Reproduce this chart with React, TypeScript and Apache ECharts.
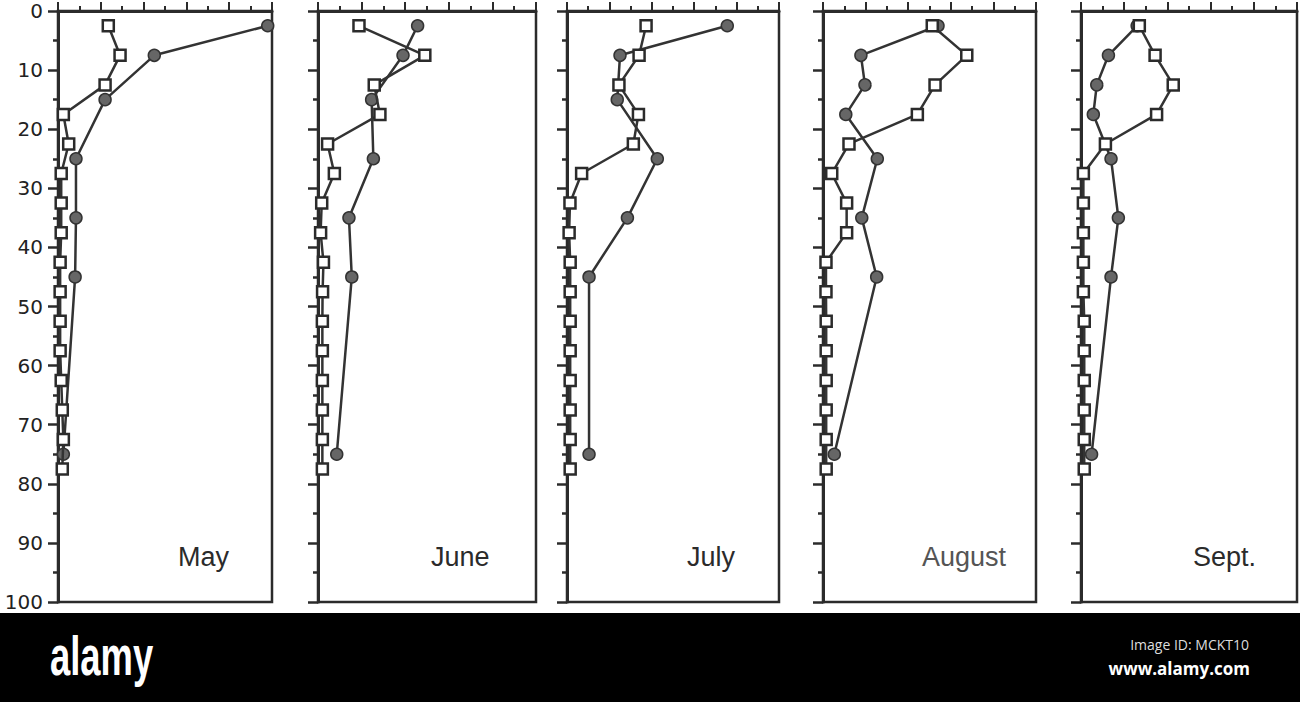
import React, { useEffect, useRef } from "react";
import * as echarts from "echarts";

// ---- data (x value unlabelled 0..10, depth 0..100) ----
const months = ["May", "June", "July", "August", "Sept."];
const depthTicks = [0, 10, 20, 30, 40, 50, 60, 70, 80, 90, 100];

const squareDepths = [2.5, 7.5, 12.5, 17.5, 22.5, 27.5, 32.5, 37.5, 42.5, 47.5, 52.5, 57.5, 62.5, 67.5, 72.5, 77.5];

const maySquares = [2.35, 2.9, 2.2, 0.25, 0.5, 0.15, 0.15, 0.15, 0.1, 0.1, 0.1, 0.1, 0.15, 0.2, 0.25, 0.2];
const juneSquares = [1.88, 4.9, 2.58, 2.84, 0.44, 0.75, 0.17, 0.12, 0.25, 0.21, 0.2, 0.2, 0.2, 0.2, 0.2, 0.2];
const julySquares = [3.73, 3.4, 2.45, 3.37, 3.13, 0.69, 0.14, 0.1, 0.15, 0.15, 0.15, 0.15, 0.15, 0.15, 0.15, 0.15];
const augSquares = [5.13, 6.75, 5.26, 4.43, 1.22, 0.41, 1.11, 1.11, 0.14, 0.14, 0.15, 0.15, 0.15, 0.15, 0.15, 0.15];
const septSquares = [2.7, 3.43, 4.27, 3.5, 1.13, 0.11, 0.11, 0.11, 0.11, 0.11, 0.15, 0.15, 0.15, 0.15, 0.15, 0.15];

const mayCircleDepths = [2.5, 7.5, 15, 25, 35, 45, 75];
const mayCircles = [9.8, 4.5, 2.2, 0.84, 0.84, 0.8, 0.25];
const juneCircleDepths = [2.5, 7.5, 15, 25, 35, 45, 75];
const juneCircles = [4.57, 3.9, 2.46, 2.54, 1.42, 1.55, 0.86];
const julyCircleDepths = [2.5, 7.5, 15, 25, 35, 45, 75];
const julyCircles = [7.56, 2.5, 2.37, 4.26, 2.85, 1.04, 1.04];
const augCircleDepths = [2.5, 7.5, 12.5, 17.5, 25, 35, 45, 75];
const augCircles = [5.4, 1.78, 1.97, 1.07, 2.55, 1.82, 2.52, 0.53];
const septCircleDepths = [2.5, 7.5, 12.5, 17.5, 25, 35, 45, 75];
const septCircles = [2.6, 1.27, 0.73, 0.57, 1.39, 1.73, 1.39, 0.49];

const squareSets = [maySquares, juneSquares, julySquares, augSquares, septSquares];
const circleSets = [mayCircles, juneCircles, julyCircles, augCircles, septCircles];
const circleDepthSets = [mayCircleDepths, juneCircleDepths, julyCircleDepths, augCircleDepths, septCircleDepths];

// ---- layout ----
const panelLeft = [58, 318, 567, 823, 1081];
const panelWidth = [214, 218, 212, 213, 216];
const panelTop = 11;
const panelHeight = 591;
const monthLabelX = [178, 431, 687, 922, 1193];

const INK = "#2b2b2b";

export default function App() {
  const ref = useRef<HTMLDivElement>(null);

  useEffect(() => {
    if (!ref.current) return;
    const chart = echarts.init(ref.current, null, { renderer: "svg" });

    const grids: any[] = [];
    const xAxes: any[] = [];
    const yAxes: any[] = [];
    const series: any[] = [];
    const graphics: any[] = [];

    months.forEach((m, i) => {
      grids.push({
        left: panelLeft[i],
        top: panelTop,
        width: panelWidth[i],
        height: panelHeight,
        show: true,
        borderColor: INK,
        borderWidth: 2.5,
        backgroundColor: "transparent",
      });
      xAxes.push({
        type: "value",
        gridIndex: i,
        position: "top",
        min: 0,
        max: 10,
        interval: 2,
        axisLine: { show: true, lineStyle: { color: INK, width: 3 } },
        axisTick: { show: true, length: 9, lineStyle: { color: INK, width: 2 } },
        minorTick: { show: true, splitNumber: 2, length: 5, lineStyle: { color: INK, width: 2 } },
        axisLabel: { show: false },
        splitLine: { show: false },
        minorSplitLine: { show: false },
      });
      yAxes.push({
        type: "value",
        gridIndex: i,
        inverse: true,
        min: 0,
        max: 100,
        interval: 10,
        axisLine: { show: true, lineStyle: { color: INK, width: 3 } },
        axisTick: { show: true, length: 10, lineStyle: { color: INK, width: 2.5 } },
        minorTick: { show: true, splitNumber: 2, length: 5, lineStyle: { color: INK, width: 2.5 } },
        axisLabel: {
          show: i === 0,
          margin: 15,
          color: "#222",
          fontSize: 20,
          fontFamily: "DejaVu Sans",
          formatter: (v: number) => (depthTicks.includes(v) ? String(v) : ""),
        },
        splitLine: { show: false },
        minorSplitLine: { show: false },
      });

      series.push({
        type: "line",
        xAxisIndex: i,
        yAxisIndex: i,
        data: circleSets[i].map((x, k) => [x, circleDepthSets[i][k]]),
        symbol: "circle",
        symbolSize: 12,
        clip: false,
        silent: true,
        lineStyle: { color: "#333", width: 2.5 },
        itemStyle: { color: "#666666", borderColor: "#333", borderWidth: 1.5 },
        z: 3,
      });
      series.push({
        type: "line",
        xAxisIndex: i,
        yAxisIndex: i,
        data: squareSets[i].map((x, k) => [x, squareDepths[k]]),
        symbol: "rect",
        symbolSize: 11,
        clip: false,
        silent: true,
        lineStyle: { color: "#333", width: 2.5 },
        itemStyle: { color: "#ffffff", borderColor: "#2b2b2b", borderWidth: 2.5 },
        z: 4,
      });

      graphics.push({
        type: "text",
        x: monthLabelX[i],
        y: 557,
        style: {
          text: m,
          fill: i === 3 ? "#555" : "#2b2b2b",
          font: '27px "Liberation Sans"',
          textAlign: "left",
          textVerticalAlign: "middle",
        },
        z: 10,
      });
    });

    // watermark band
    graphics.push({
      type: "rect",
      shape: { x: 0, y: 613, width: 1300, height: 89 },
      style: { fill: "#000" },
      z: 20,
    });
    graphics.push({
      type: "text",
      x: 50,
      y: 656,
      scaleX: 0.7,
      scaleY: 1.05,
      style: {
        text: "alamy",
        fill: "#fff",
        font: 'bold 52px "Liberation Sans"',
        textAlign: "left",
        textVerticalAlign: "middle",
      },
      z: 21,
    });
    graphics.push({
      type: "text",
      x: 1249,
      y: 644,
      style: {
        text: "Image ID: MCKT10",
        fill: "#dddddd",
        font: '14px "Open Sans"',
        textAlign: "right",
        textVerticalAlign: "middle",
      },
      z: 21,
    });
    graphics.push({
      type: "text",
      x: 1250,
      y: 668,
      style: {
        text: "www.alamy.com",
        fill: "#ffffff",
        font: 'bold 17px "Open Sans"',
        textAlign: "right",
        textVerticalAlign: "middle",
      },
      z: 21,
    });

    chart.setOption({
      animation: false,
      backgroundColor: "#ffffff",
      grid: grids,
      xAxis: xAxes,
      yAxis: yAxes,
      series,
      graphic: graphics,
    });

    return () => chart.dispose();
  }, []);

  return (
    <div
      ref={ref}
      style={{ position: "fixed", left: 0, top: 0, width: 1300, height: 702, background: "#fff" }}
    />
  );
}
